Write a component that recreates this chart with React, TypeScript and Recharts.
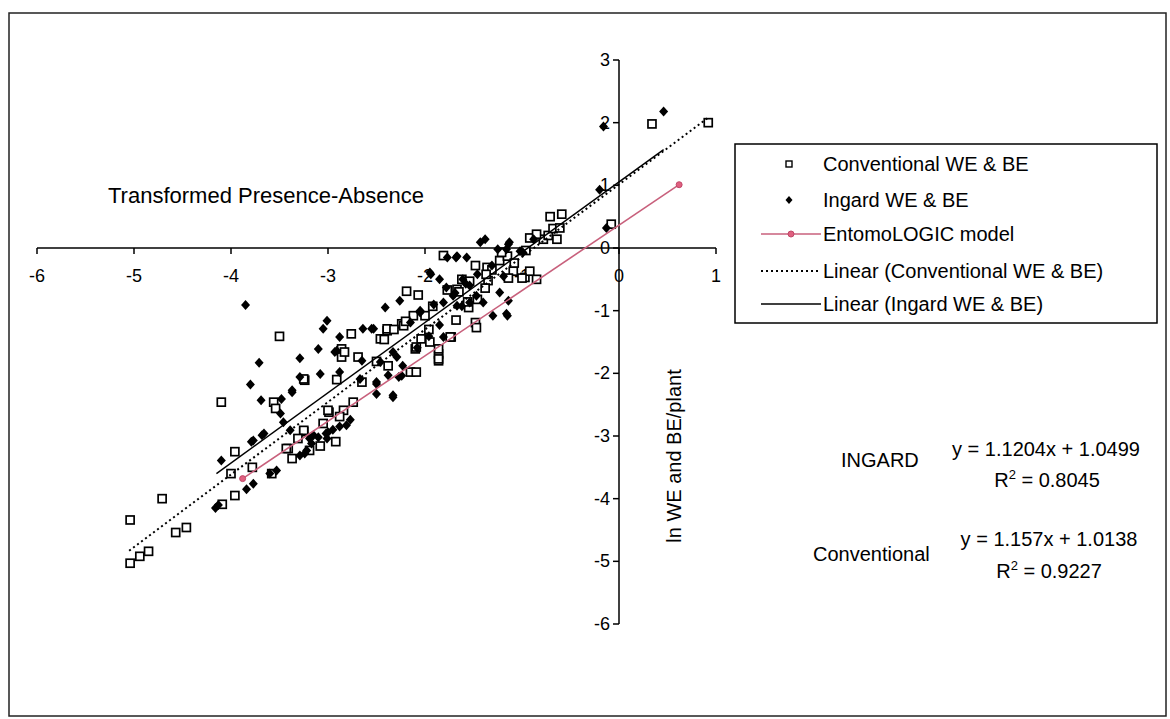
import React from 'react';
import { ScatterChart, Scatter, XAxis, YAxis, ReferenceLine } from 'recharts';

const FONT = "'Liberation Sans', Arial, sans-serif";

// tick values on the crossing axes
const xTickValues = [-6, -5, -4, -3, -2, -1, 0, 1];
const yTickValues = [-6, -5, -4, -3, -2, -1, 0, 1, 2, 3];

// Conventional WE & BE (open squares)
const conventional: [number, number][] = [
  [-5.04, -5.03], [-4.94, -4.92], [-4.85, -4.84], [-5.04, -4.34], [-4.71, -4.0], [-4.57, -4.54], [-4.46, -4.46],
  [-4.1, -2.46], [-3.96, -3.25], [-4.0, -3.6], [-3.78, -3.5], [-3.96, -3.95], [-4.09, -4.09], [-3.56, -2.46],
  [-3.54, -2.56], [-3.41, -3.2], [-3.37, -3.36], [-3.58, -3.6], [-3.5, -1.41], [-3.24, -2.11], [-3.25, -2.93],
  [-3.05, -2.8], [-2.99, -2.62], [-2.84, -2.59], [-2.74, -2.46], [-3.25, -2.09], [-2.76, -1.37], [-2.86, -1.61],
  [-2.86, -1.74], [-2.39, -1.32], [-2.46, -1.45], [-2.24, -1.21], [-2.1, -1.61], [-2.15, -1.98], [-2.09, -1.98],
  [-1.86, -1.69], [-1.86, -1.8], [-1.73, -1.42], [-1.48, -1.19], [-3.43, -3.2], [-3.25, -2.91],
  [-2.19, -0.69], [-2.07, -0.75], [-1.81, -0.12], [-1.36, -0.31], [-1.67, -0.66], [-1.55, -0.95], [-1.47, -1.27],
  [-1.19, -0.07], [-1.09, -0.37], [-0.97, -0.47], [-0.85, -0.5], [-0.92, -0.37], [-0.78, 0.14], [-0.64, 0.14],
  [-2.39, -1.29], [-2.22, -1.24], [-2.09, -1.58], [-1.95, -1.5], [-1.86, -1.61], [-1.86, -1.77], [-1.74, -1.42],
  [-1.35, -0.52], [-1.77, -0.67], [-1.65, -0.7], [-1.62, -0.5], [-1.54, -0.53], [-1.68, -1.15], [-1.56, -0.86],
  [-1.46, -0.82], [-1.38, -0.64], [-1.31, -0.35], [-1.23, -0.2], [-1.15, -0.13], [-1.08, -0.24], [-1.0, -0.48],
  [-0.96, -0.04], [-0.92, 0.16], [-0.85, 0.22], [-0.73, 0.2], [-0.68, 0.31], [-0.71, 0.5], [-0.59, 0.54],
  [-0.61, 0.32], [-0.08, 0.38], [0.34, 1.98], [0.92, 2.0], [-1.21, -0.07], [-1.14, -0.48], [-1.96, -1.3],
  [-2.04, -1.45], [-2.38, -1.88], [-2.5, -1.81], [-2.12, -1.08], [-2.0, -1.08], [-1.92, -0.93], [-1.48, -0.28],
  [-1.37, -0.42], [-2.65, -2.14], [-2.91, -2.1], [-2.69, -1.74], [-2.83, -1.66], [-2.42, -1.46], [-2.32, -1.3],
  [-2.2, -1.17], [-3.19, -3.23], [-3.08, -3.16], [-2.92, -3.09], [-2.88, -2.69], [-3.0, -2.59], [-3.31, -3.04],
];

// Ingard WE & BE (filled diamonds)
const ingard: [number, number][] = [
  [-3.85, -0.91], [-3.01, -1.16], [-3.05, -1.29], [-2.88, -1.42], [-3.1, -1.61], [-3.29, -1.76], [-3.71, -1.83],
  [-3.8, -2.18], [-3.69, -2.43], [-3.29, -2.06], [-3.08, -2.01], [-3.37, -2.27], [-3.48, -2.41], [-3.39, -2.91],
  [-3.66, -2.96], [-3.79, -3.09], [-4.1, -3.39], [-3.24, -3.28], [-3.19, -3.04], [-2.65, -1.8], [-2.64, -1.29],
  [-2.55, -1.29], [-2.91, -1.64], [-2.88, -1.98], [-2.93, -1.66], [-2.46, -1.82], [-2.67, -2.09], [-2.5, -2.17],
  [-2.5, -2.33], [-2.33, -2.38], [-2.27, -2.06], [-3.49, -2.64], [-3.15, -2.99], [-3.01, -3.04], [-2.81, -2.83],
  [-3.29, -3.31], [-3.22, -3.23], [-1.81, -1.42], [-2.05, -1.03], [-2.29, -1.74], [-3.37, -2.3], [-3.46, -2.78],
  [-3.77, -3.07], [-3.68, -2.99], [-4.16, -4.15], [-4.13, -4.1], [-3.84, -3.85], [-3.77, -3.76], [-3.6, -3.6],
  [-3.53, -3.55], [-1.95, -0.39], [-1.85, -0.5], [-1.78, -0.63], [-1.71, -0.76], [-1.61, -0.5], [-1.54, -0.6],
  [-1.47, -0.76], [-1.4, -0.87], [-1.54, -0.87], [-1.67, -0.92], [-1.81, -0.87], [-1.91, -0.9], [-1.43, 0.09],
  [-1.38, 0.14], [-1.67, -0.13], [-1.57, -0.15], [-2.26, -0.84], [-2.41, -0.95], [-2.05, -1.0], [-1.3, -1.08],
  [-1.16, -1.05], [-1.14, -0.84], [-1.19, -0.45], [-1.23, -0.71], [-1.16, -0.02], [-0.99, -0.07], [-0.88, 0.14],
  [-2.53, -1.29], [-2.33, -1.66], [-2.5, -2.14], [-2.33, -2.35], [-2.24, -2.04], [-2.15, -1.19], [-1.14, 0.06],
  [-1.02, -0.05], [-0.16, 1.94], [0.46, 2.18], [-0.2, 0.93], [-0.13, 0.32], [-1.94, -0.42], [-1.77, -0.15],
  [-1.68, -0.15], [-1.25, -0.02], [-1.13, 0.09], [-1.15, -1.08], [-1.62, -0.93], [-3.0, -2.94], [-2.88, -2.85],
  [-2.77, -2.74], [-3.17, -3.12], [-2.38, -2.03], [-2.23, -1.88], [-2.08, -1.59], [-1.96, -1.41], [-1.85, -1.23],
  [-1.69, -0.72], [-1.58, -0.57], [-1.46, -0.42], [-1.31, -0.28], [-3.1, -3.02], [-3.02, -2.96], [-2.95, -2.9],
];

// EntomoLOGIC model
const entomologic: [number, number][] = [[-3.88, -3.68], [0.62, 1.01]];

// trendline ends as drawn
const conventionalFit: [number, number][] = [[-5.05, -4.83], [0.92, 2.08]];
const ingardFit: [number, number][] = [[-4.15, -3.6], [0.46, 1.57]];

const toPts = (a: [number, number][]) => a.map(([x, y]) => ({ x, y }));

const SquareMark = (p: any) => (
  <rect x={p.cx - 4} y={p.cy - 4} width={8} height={8} fill="#fff" stroke="#000" strokeWidth={1.7} />
);
const DiamondMark = (p: any) => (
  <path d={`M${p.cx},${p.cy - 5}L${p.cx + 4.5},${p.cy}L${p.cx},${p.cy + 5}L${p.cx - 4.5},${p.cy}Z`} fill="#000" />
);
const PinkDot = (p: any) => <circle cx={p.cx} cy={p.cy} r={3} fill="#e06080" stroke="#c04868" />;
const NoMark = () => <g />;

const XTick = (p: any) => (
  <g>
    <line x1={p.cx} y1={p.cy} x2={p.cx} y2={p.cy + 6} stroke="#000" strokeWidth={1.5} />
    <text x={p.cx} y={p.cy + 34} textAnchor="middle" fontSize={18} fontFamily={FONT} fill="#000">
      {p.payload.x}
    </text>
  </g>
);
const YTick = (p: any) => (
  <g>
    <line x1={p.cx - 6} y1={p.cy} x2={p.cx} y2={p.cy} stroke="#000" strokeWidth={1.5} />
    <text x={p.cx - 9} y={p.cy + 6} textAnchor="end" fontSize={18} fontFamily={FONT} fill="#000">
      {p.payload.y}
    </text>
  </g>
);

const legendRows = [
  'Conventional WE & BE',
  'Ingard WE & BE',
  'EntomoLOGIC model',
  'Linear (Conventional WE & BE)',
  'Linear (Ingard WE & BE)',
];

export default function App() {
  const rowY = [164, 200, 234, 271, 304];
  return (
    <div style={{ position: 'absolute', left: 0, top: 0, width: 1170, height: 719, background: '#fff' }}>
      <ScatterChart width={1170} height={719} margin={{ top: 60, right: 454, bottom: 95, left: 37 }}>
        <XAxis type="number" dataKey="x" domain={[-6, 1]} hide />
        <YAxis type="number" dataKey="y" domain={[-6, 3]} hide />
        <ReferenceLine segment={[{ x: -6, y: 0 }, { x: 1, y: 0 }]} stroke="#000" strokeWidth={1.5} />
        <ReferenceLine segment={[{ x: 0, y: -6 }, { x: 0, y: 3 }]} stroke="#000" strokeWidth={1.5} />
        <Scatter data={xTickValues.map((x) => ({ x, y: 0 }))} shape={XTick} isAnimationActive={false} />
        <Scatter data={yTickValues.map((y) => ({ x: 0, y }))} shape={YTick} isAnimationActive={false} />
        <Scatter data={toPts(conventional)} shape={SquareMark} isAnimationActive={false} />
        <Scatter data={toPts(ingard)} shape={DiamondMark} isAnimationActive={false} />
        <Scatter
          data={toPts(entomologic)}
          line={{ stroke: '#c8607c', strokeWidth: 1.6 }}
          lineType="joint"
          shape={PinkDot}
          isAnimationActive={false}
        />
        <Scatter
          data={toPts(conventionalFit)}
          line={{ stroke: '#000', strokeWidth: 2, strokeDasharray: '2 3' }}
          lineType="joint"
          shape={NoMark}
          isAnimationActive={false}
        />
        <Scatter
          data={toPts(ingardFit)}
          line={{ stroke: '#000', strokeWidth: 1.5 }}
          lineType="joint"
          shape={NoMark}
          isAnimationActive={false}
        />
      </ScatterChart>

      <svg
        width={1170}
        height={719}
        style={{ position: 'absolute', left: 0, top: 0, pointerEvents: 'none' }}
        fontFamily={FONT}
      >
        <rect x={9} y={13} width={1157} height={703} fill="none" stroke="#222" strokeWidth={1.5} />

        <text x={108} y={203} fontSize={22} fill="#000">Transformed Presence-Absence</text>
        <text transform="translate(681,456) rotate(-90)" textAnchor="middle" fontSize={20} fill="#000">
          ln WE and BE/plant
        </text>

        <rect x={735} y={144} width={422} height={179} fill="#fff" stroke="#000" strokeWidth={1.5} />
        <rect x={786} y={rowY[0] - 3} width={6} height={6} fill="#fff" stroke="#000" strokeWidth={1.4} />
        <path d={`M789,${rowY[1] - 4}L792.5,${rowY[1]}L789,${rowY[1] + 4}L785.5,${rowY[1]}Z`} fill="#000" />
        <line x1={761} y1={rowY[2]} x2={821} y2={rowY[2]} stroke="#c8607c" strokeWidth={1.6} />
        <circle cx={791} cy={rowY[2]} r={3} fill="#e06080" stroke="#c04868" />
        <line x1={761} y1={rowY[3]} x2={821} y2={rowY[3]} stroke="#000" strokeWidth={2} strokeDasharray="2 3" />
        <line x1={761} y1={rowY[4]} x2={821} y2={rowY[4]} stroke="#000" strokeWidth={1.5} />
        {legendRows.map((t, i) => (
          <text key={t} x={823} y={rowY[i] + 7} fontSize={20} fill="#000">{t}</text>
        ))}

        <text x={841} y={467} fontSize={20} fill="#000">INGARD</text>
        <text x={1046} y={456} textAnchor="middle" fontSize={20} fill="#000">y = 1.1204x + 1.0499</text>
        <text x={1047} y={487} textAnchor="middle" fontSize={20} fill="#000">
          R<tspan dy={-8} fontSize={13}>2</tspan><tspan dy={8}> = 0.8045</tspan>
        </text>
        <text x={813} y={561} fontSize={20} fill="#000">Conventional</text>
        <text x={1049} y={546} textAnchor="middle" fontSize={20} fill="#000">y = 1.157x + 1.0138</text>
        <text x={1049} y={578} textAnchor="middle" fontSize={20} fill="#000">
          R<tspan dy={-8} fontSize={13}>2</tspan><tspan dy={8}> = 0.9227</tspan>
        </text>
      </svg>
    </div>
  );
}
